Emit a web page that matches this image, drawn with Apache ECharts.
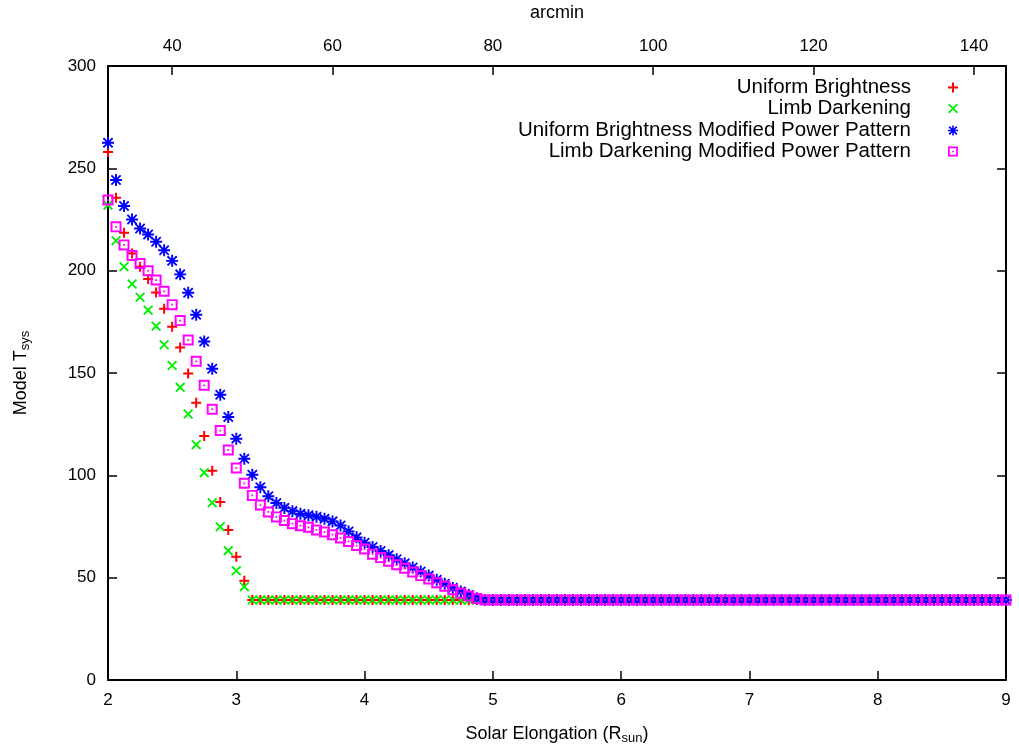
<!DOCTYPE html>
<html>
<head>
<meta charset="utf-8">
<script src="https://cdn.jsdelivr.net/npm/echarts@6/dist/echarts.min.js"></script>
<style>html,body{margin:0;padding:0;background:#fff}#c{width:1019px;height:749px}</style>
</head>
<body>
<div id="c"></div>
<script>
// x positions: 1 arcmin steps from 32' to 144' (R_sun = arcmin / 16)
const arcminStart = 32, arcminEnd = 144;
const topTicks = [40, 60, 80, 100, 120, 140];
const yTicks = [0, 50, 100, 150, 200, 250, 300];

const uniformBrightness = [
  258, 235.6, 218.5, 208.4, 201.9, 195.9, 189.3, 181.4, 172.6, 162.5, 149.8, 135.5, 119.2, 102.3, 87, 73.3, 60.2, 48.5,
  39.1,39.1,39.1,39.1,39.1,39.1,39.1,39.1,39.1,39.1,
  39.1,39.1,39.1,39.1,39.1,39.1,39.1,39.1,39.1,39.1,
  39.1,39.1,39.1,39.1,39.1,39.1,39.1,39.1,39.1,39.1,
  39.1,39.1,39.1,39.1,39.1,39.1,39.1,39.1,39.1,39.1,
  39.1,39.1,39.1,39.1,39.1,39.1,39.1,39.1,39.1,39.1,
  39.1,39.1,39.1,39.1,39.1,39.1,39.1,39.1,39.1,39.1,
  39.1,39.1,39.1,39.1,39.1,39.1,39.1,39.1,39.1,39.1,
  39.1,39.1,39.1,39.1,39.1,39.1,39.1,39.1,39.1,39.1,
  39.1,39.1,39.1,39.1,39.1,39.1,39.1,39.1,39.1,39.1,
  39.1,39.1,39.1,39.1,39.1
];
const limbDarkening = [
  232, 214.6, 201.9, 193.5, 187, 180.7, 172.9, 163.8, 153.7, 143, 130, 115, 101.3, 86.6, 74.9, 63.2, 53.4, 45.6,
  39.1,39.1,39.1,39.1,39.1,39.1,39.1,39.1,39.1,39.1,
  39.1,39.1,39.1,39.1,39.1,39.1,39.1,39.1,39.1,39.1,
  39.1,39.1,39.1,39.1,39.1,39.1,39.1,39.1,39.1,39.1,
  39.1,39.1,39.1,39.1,39.1,39.1,39.1,39.1,39.1,39.1,
  39.1,39.1,39.1,39.1,39.1,39.1,39.1,39.1,39.1,39.1,
  39.1,39.1,39.1,39.1,39.1,39.1,39.1,39.1,39.1,39.1,
  39.1,39.1,39.1,39.1,39.1,39.1,39.1,39.1,39.1,39.1,
  39.1,39.1,39.1,39.1,39.1,39.1,39.1,39.1,39.1,39.1,
  39.1,39.1,39.1,39.1,39.1,39.1,39.1,39.1,39.1,39.1,
  39.1,39.1,39.1,39.1,39.1
];
const uniformModified = [
  262.5, 244.3, 231.6, 225, 220.6, 217.7, 214.1, 210, 204.8, 198.2, 189.2, 178.5, 165.4, 152.1, 139.4, 128.5,
  117.9, 108.1, 100.3, 94.2, 89.8, 86.5, 84.1, 82.5, 81.2, 80.5, 79.8, 78.8, 77.5, 75.5, 72.6, 69.7,
  67.1, 65, 63, 61, 59, 57, 55, 53, 51, 49, 47, 45, 43.2, 41.5, 40,
  39.1,39.1,39.1,39.1,39.1,39.1,39.1,39.1,39.1,39.1,
  39.1,39.1,39.1,39.1,39.1,39.1,39.1,39.1,39.1,39.1,
  39.1,39.1,39.1,39.1,39.1,39.1,39.1,39.1,39.1,39.1,
  39.1,39.1,39.1,39.1,39.1,39.1,39.1,39.1,39.1,39.1,
  39.1,39.1,39.1,39.1,39.1,39.1,39.1,39.1,39.1,39.1,
  39.1,39.1,39.1,39.1,39.1,39.1,39.1,39.1,39.1,39.1,
  39.1,39.1,39.1,39.1,39.1,39.1
];
const limbModified = [
  234.5, 221.4, 212.6, 207.4, 203.5, 200, 195.4, 189.9, 183.4, 175.6, 166.1, 155.7, 144, 132.3, 121.9, 112.4,
  103.6, 96.1, 90.2, 85.5, 82.1, 79.7, 77.9, 76.4, 75.4, 74.6, 73.3, 72.3, 71, 69.4, 67.7, 65.7,
  64, 61.5, 59.8, 58, 56.3, 54.6, 52.8, 51, 49.3, 47.5, 45.8, 44.1, 42.4, 41, 39.8,
  39.1,39.1,39.1,39.1,39.1,39.1,39.1,39.1,39.1,39.1,
  39.1,39.1,39.1,39.1,39.1,39.1,39.1,39.1,39.1,39.1,
  39.1,39.1,39.1,39.1,39.1,39.1,39.1,39.1,39.1,39.1,
  39.1,39.1,39.1,39.1,39.1,39.1,39.1,39.1,39.1,39.1,
  39.1,39.1,39.1,39.1,39.1,39.1,39.1,39.1,39.1,39.1,
  39.1,39.1,39.1,39.1,39.1,39.1,39.1,39.1,39.1,39.1,
  39.1,39.1,39.1,39.1,39.1,39.1
];

const names = ['Uniform Brightness', 'Limb Darkening', 'Uniform Brightness Modified Power Pattern', 'Limb Darkening Modified Power Pattern'];

const SYM_PLUS = 'path://M4 0H6V4H10V6H6V10H4V6H0V4H4Z';
const SYM_CROSS = 'path://M0 1.3L1.3 0L10 8.7L8.7 10ZM8.7 0L10 1.3L1.3 10L0 8.7Z';
const SYM_STAR = 'path://M4.2 0H5.8V4.2H10V5.8H5.8V10H4.2V5.8H0V4.2H4.2ZM0.6 1.7L1.7 0.6L9.4 8.3L8.3 9.4ZM8.3 0.6L9.4 1.7L1.7 9.4L0.6 8.3Z';
const SYM_SQUARE = 'path://M0 0H10V10H0ZM1.8 1.8V8.2H8.2V1.8ZM4.2 4.2H5.8V5.8H4.2Z';

// top axis categories: one per arcmin step
const arcminCats = [];
for (let a = arcminStart; a <= arcminEnd; a++) arcminCats.push(String(a));

function pts(vals) {
  const out = [];
  for (let i = 0; i < vals.length; i++) {
    const arcmin = arcminStart + i;
    out.push([arcmin / 16, vals[i]]);
  }
  return out;
}
function isTopTick(idx) { return topTicks.indexOf(arcminStart + idx) >= 0; }

const FONT = 'Liberation Sans, Arial, sans-serif';
const tickCommon = { show: true, inside: true, length: 9, lineStyle: { color: '#000', width: 1.5 } };
const lineCommon = { show: true, onZero: false, lineStyle: { color: '#000', width: 2 } };
const labelCommon = { color: '#000', fontSize: 17, fontFamily: FONT };
const subRich = { sub: { fontSize: 13, fontFamily: FONT, color: '#000', verticalAlign: 'bottom', padding: [8, 0, 0, 0] } };

const chart = echarts.init(document.getElementById('c'), null, { renderer: 'canvas' });

const legendRows = [77, 98, 120, 141];
const legends = names.map((n, i) => ({
  data: [n], right: 61, top: legendRows[i], align: 'right', orient: 'vertical',
  padding: 0, itemWidth: 10, itemHeight: 10, selectedMode: false,
  textStyle: { color: '#000', fontSize: 20.5, fontFamily: FONT, padding: [0, 32, 0, 0] }
}));

chart.setOption({
  animation: false,
  backgroundColor: '#fff',
  grid: { left: 108, right: 13, top: 66, bottom: 69, containLabel: false, outerBoundsMode: 'none' },
  legend: legends,
  xAxis: [
    {
      type: 'value', position: 'bottom', min: 2, max: 9, interval: 1,
      axisLine: lineCommon, axisTick: tickCommon, splitLine: { show: false },
      axisLabel: Object.assign({ margin: 12 }, labelCommon),
      name: 'Solar Elongation (R{sub|sun})', nameLocation: 'middle', nameGap: 44,
      nameTextStyle: { color: '#000', fontSize: 18, fontFamily: FONT, rich: subRich }
    },
    {
      type: 'category', position: 'top', data: arcminCats, boundaryGap: false,
      axisLine: lineCommon,
      axisTick: Object.assign({ interval: isTopTick }, tickCommon),
      splitLine: { show: false },
      axisLabel: Object.assign({ margin: 11, interval: isTopTick }, labelCommon),
      name: 'arcmin', nameLocation: 'middle', nameGap: 44,
      nameTextStyle: { color: '#000', fontSize: 18, fontFamily: FONT }
    }
  ],
  yAxis: [
    {
      type: 'value', position: 'left', min: 0, max: 300, interval: 50,
      axisLine: lineCommon, axisTick: tickCommon, splitLine: { show: false },
      axisLabel: Object.assign({ margin: 12 }, labelCommon),
      name: 'Model T{sub|sys}', nameLocation: 'middle', nameRotate: 90, nameGap: 76,
      nameTextStyle: { color: '#000', fontSize: 18, fontFamily: FONT, rich: subRich }
    },
    {
      type: 'value', position: 'right', min: 0, max: 300, interval: 50,
      axisLine: lineCommon, axisTick: tickCommon, splitLine: { show: false },
      axisLabel: { show: false }
    }
  ],
  series: [
    { name: names[0], type: 'scatter', xAxisIndex: 0, yAxisIndex: 0, symbol: SYM_PLUS, symbolSize: 10,
      itemStyle: { color: '#ff0000', opacity: 1 }, data: pts(uniformBrightness) },
    { name: names[1], type: 'scatter', xAxisIndex: 0, yAxisIndex: 0, symbol: SYM_CROSS, symbolSize: 10,
      itemStyle: { color: '#00ee00', opacity: 1 }, data: pts(limbDarkening) },
    { name: names[2], type: 'scatter', xAxisIndex: 0, yAxisIndex: 0, symbol: SYM_STAR, symbolSize: 12,
      itemStyle: { color: '#0000ff', opacity: 1 }, data: pts(uniformModified) },
    { name: names[3], type: 'scatter', xAxisIndex: 0, yAxisIndex: 0, symbol: SYM_SQUARE, symbolSize: 11,
      itemStyle: { color: '#ff00ff', opacity: 1 }, data: pts(limbModified) }
  ]
});
</script>
</body>
</html>
